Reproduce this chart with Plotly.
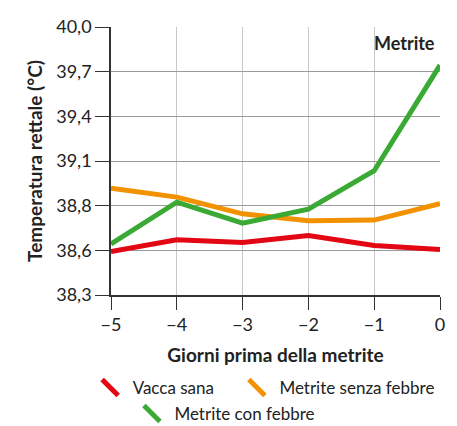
import plotly.graph_objects as go

days = [-5, -4, -3, -2, -1, 0]
vacca_sana = [38.576, 38.65, 38.633, 38.678, 38.614, 38.589]
metrite_senza_febbre = [38.978, 38.921, 38.815, 38.771, 38.775, 38.879]
metrite_con_febbre = [38.624, 38.889, 38.756, 38.845, 39.088, 39.758]

y_tickvals = [38.3, 38.5833, 38.8667, 39.15, 39.4333, 39.7167, 40.0]
y_ticktext = ["38,3", "38,6", "38,8", "39,1", "39,4", "39,7", "40,0"]

names = ["Vacca sana", "Metrite senza febbre", "Metrite con febbre"]
colors = ["#e30613", "#f39200", "#3aaa35"]
series = [vacca_sana, metrite_senza_febbre, metrite_con_febbre]
legends = ["legend", "legend2", "legend3"]

FONT = "Lato, sans-serif"

fig = go.Figure()
for name, col, vals in zip(names, colors, series):
    fig.add_trace(go.Scatter(x=days, y=vals, mode="lines", name=name,
                             line=dict(color=col, width=5), showlegend=False))
for name, col, lg in zip(names, colors, legends):
    fig.add_trace(go.Scatter(x=[None], y=[None], mode="markers", name=name,
                             legend=lg,
                             marker=dict(symbol="line-nw", size=16,
                                         line=dict(color=col, width=5))))

fig.add_annotation(x=0, y=40.0, xref="x", yref="y", text="<b>Metrite</b>",
                   showarrow=False, xanchor="right", yanchor="top",
                   yshift=-3, xshift=-3,
                   font=dict(family=FONT, size=18, color="#222"))

leg_common = dict(orientation="h", xanchor="left", yanchor="middle",
                  font=dict(size=17), bgcolor="rgba(0,0,0,0)", itemwidth=35)

fig.update_layout(
    width=457, height=426,
    margin=dict(l=103, r=25, t=19, b=139, autoexpand=False),
    plot_bgcolor="white", paper_bgcolor="white",
    font=dict(family=FONT, size=18, color="#222"),
    xaxis=dict(range=[-5, 0], tickvals=days, showgrid=True,
               gridcolor="#c8c8c8", gridwidth=1,
               showline=True, linecolor="#333", linewidth=1.5,
               ticks="outside", ticklen=13, tickcolor="#333", tickwidth=1,
               zeroline=False,
               title=dict(text="<b>Giorni prima della metrite</b>",
                          font=dict(size=19), standoff=14)),
    yaxis=dict(range=[38.3, 40.0], tickvals=y_tickvals, ticktext=y_ticktext,
               showgrid=True, gridcolor="#9a9a9a", gridwidth=1,
               showline=True, linecolor="#333", linewidth=1.5,
               ticks="outside", ticklen=14, tickcolor="#333", tickwidth=1,
               zeroline=False,
               title=dict(text="<b>Temperatura rettale (°C)</b>",
                          font=dict(size=19), standoff=9)),
    legend=dict(x=-0.071, y=-0.347, **leg_common),
    legend2=dict(x=0.375, y=-0.347, **leg_common),
    legend3=dict(x=0.056, y=-0.444, **leg_common),
)

fig.write_html("out.html")
